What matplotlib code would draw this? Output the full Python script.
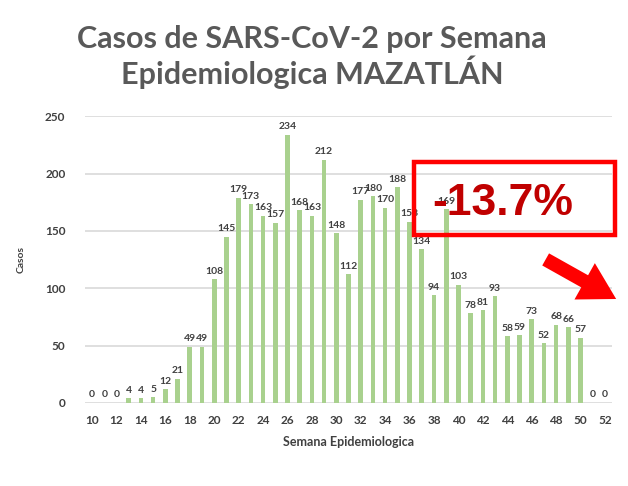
import matplotlib
matplotlib.use("Agg")
import matplotlib.pyplot as plt
from matplotlib.patches import Rectangle, FancyArrowPatch

# casos por semana epidemiologica, Mazatlan
semanas = list(range(10, 53))
casos = [0, 0, 0, 4, 4, 5, 12, 21, 49, 49, 108, 145, 179, 173, 163, 157,
         234, 168, 163, 212, 148, 112, 177, 180, 170, 188, 158, 134, 94,
         169, 103, 78, 81, 93, 58, 59, 73, 52, 68, 66, 57, 0, 0]
marcas_x = list(range(10, 53, 2))
marcas_y = [0, 50, 100, 150, 200, 250]
cambio = "-13.7%"

plt.rcParams['font.family'] = ['Lato', 'DejaVu Sans']

fig = plt.figure(figsize=(6.28, 4.86), dpi=100)
ax = fig.add_axes([0.135, 0.171, 0.840, 0.590])

ax.bar(semanas, casos, width=0.38, color="#A9D18E", zorder=3)
for s, c in zip(semanas, casos):
    ax.text(s, c + 3, str(c), ha="center", va="bottom", fontsize=7.5,
            fontweight="bold", color="#404040", zorder=4, clip_on=False)

ax.set_xlim(9.4, 52.6)
ax.set_ylim(0, 250)
ax.set_xticks(marcas_x)
ax.set_yticks(marcas_y)
ax.tick_params(length=0, labelsize=8.5, labelcolor="#404040")
ax.tick_params(axis="x", pad=9)
ax.tick_params(axis="y", pad=14)
for lab in ax.get_xticklabels() + ax.get_yticklabels():
    lab.set_fontweight("bold")
ax.grid(axis="y", color="#D9D9D9", linewidth=1.2, zorder=0)
for sp in ax.spines.values():
    sp.set_visible(False)

ax.set_xlabel("Semana Epidemiologica", fontsize=9, fontweight="bold",
              color="#404040", labelpad=7)
ax.set_ylabel("Casos", fontsize=7.5, fontweight="bold", color="#404040",
              labelpad=14)

fig.text(0.497, 0.883, "Casos de SARS-CoV-2 por Semana\nEpidemiologica MAZATLÁN",
         ha="center", va="center", fontsize=22, fontweight="bold",
         color="#595959", linespacing=1.1)

# recuadro con el cambio porcentual
fig.add_artist(Rectangle((0.659, 0.516), 0.320, 0.150, transform=fig.transFigure,
                         fill=False, edgecolor="#FF0000", linewidth=3.2))
fig.text(0.80, 0.582, cambio, ha="center", va="center", fontsize=32,
         fontweight="bold", color="#C00000", family=["Liberation Sans"])
fig.add_artist(FancyArrowPatch((0.865, 0.469), (0.985, 0.382),
                               transform=fig.transFigure,
                               arrowstyle="simple,head_width=3,head_length=2.6,tail_width=1",
                               mutation_scale=10, color="#FF0000", linewidth=0))

fig.savefig("out.png", dpi=100)
